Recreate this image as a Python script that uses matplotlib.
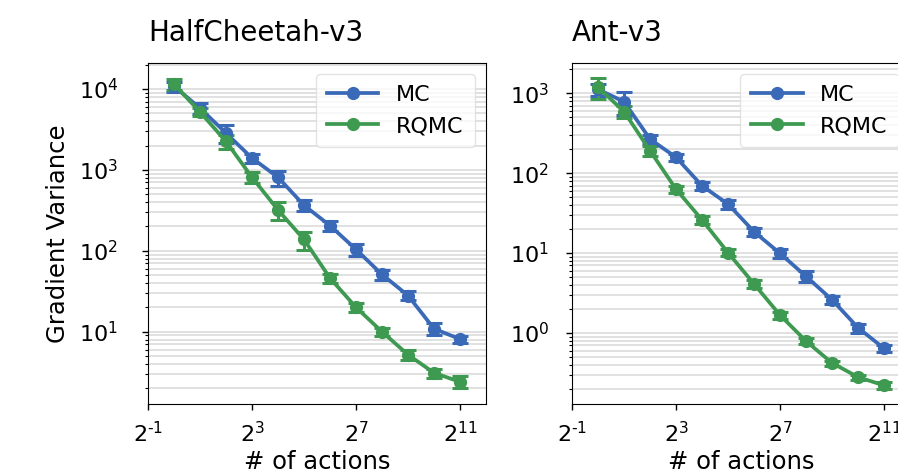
import numpy as np
import matplotlib.pyplot as plt
from matplotlib.ticker import LogLocator, FixedLocator, FuncFormatter, NullFormatter

# nombre d'actions (2^0 ... 2^11)
actions = [1, 2, 4, 8, 16, 32, 64, 128, 256, 512, 1024, 2048]

# HalfCheetah-v3
hc_mc = [10800, 5800, 2850, 1400, 810, 365, 205, 104, 51, 28, 10.9, 8.1]
hc_mc_err = [1500, 900, 700, 170, 170, 55, 30, 18, 7, 3.5, 1.8, 0.8]
hc_rqmc = [11500, 5200, 2250, 810, 320, 138, 46, 20, 10, 5.2, 3.1, 2.4]
hc_rqmc_err = [1700, 600, 450, 130, 80, 35, 6, 2.5, 1.2, 0.7, 0.4, 0.4]

# Ant-v3
ant_mc = [1120, 785, 267, 158, 69.5, 41, 18.5, 9.9, 5.1, 2.6, 1.16, 0.64]
ant_mc_err = [200, 250, 35, 18, 8, 5, 2.2, 1.3, 0.8, 0.3, 0.15, 0.07]
ant_rqmc = [1190, 590, 191, 63, 26, 10.1, 4.1, 1.67, 0.79, 0.42, 0.28, 0.22]
ant_rqmc_err = [350, 100, 25, 7, 3, 1.0, 0.45, 0.18, 0.07, 0.03, 0.02, 0.02]

xticks = [2.0 ** -1, 2.0 ** 3, 2.0 ** 7, 2.0 ** 11]

bleu = "#3a6ab7"
vert = "#3e9a50"

plt.rcParams['font.family'] = 'DejaVu Sans'


def fmt_puissance(v, p):
    e = int(round(np.log2(v)))
    if e < 0:
        return r"$\mathdefault{2^{\text{-}%d}}$" % (-e)
    return r"$\mathdefault{2^{%d}}$" % e


fig = plt.figure(figsize=(8.98, 4.73), dpi=100)
ax1 = fig.add_axes([0.1648, 0.146, 0.3764, 0.721])
ax2 = fig.add_axes([0.637, 0.146, 0.3764, 0.721])

panneaux = [
    (ax1, "HalfCheetah-v3", hc_mc, hc_mc_err, hc_rqmc, hc_rqmc_err, (1.28, 2.1e4), 17.5),
    (ax2, "Ant-v3", ant_mc, ant_mc_err, ant_rqmc, ant_rqmc_err, (0.129, 2400), 12.5),
]

for ax, titre, mc, mc_err, rq, rq_err, ylim, ypad in panneaux:
    c1 = ax.errorbar(actions, mc, yerr=mc_err, color=bleu, lw=2.7, marker='o', ms=8.5,
                     capsize=5.5, capthick=2.2, elinewidth=2.2, label="MC")
    c2 = ax.errorbar(actions, rq, yerr=rq_err, color=vert, lw=2.7, marker='o', ms=8.5,
                     capsize=5.5, capthick=2.2, elinewidth=2.2, label="RQMC")
    ax.set_xscale('log', base=2)
    ax.set_yscale('log')
    ax.set_xlim(2.0 ** -1, 2.0 ** 12)
    ax.set_ylim(*ylim)
    ax.xaxis.set_major_locator(FixedLocator(xticks))
    ax.xaxis.set_minor_locator(FixedLocator([]))
    ax.xaxis.set_major_formatter(FuncFormatter(fmt_puissance))
    ax.yaxis.set_major_locator(LogLocator(base=10, numticks=20))
    ax.yaxis.set_minor_locator(LogLocator(base=10, subs=np.arange(2, 10), numticks=20))
    ax.yaxis.set_minor_formatter(NullFormatter())
    ax.grid(True, axis='y', which='both', color='#d9d9d9', lw=1.1)
    ax.set_axisbelow(True)
    ax.tick_params(axis='both', which='major', labelsize=16, length=4, width=1)
    ax.tick_params(axis='x', which='major', pad=8)
    ax.tick_params(axis='y', which='major', pad=ypad)
    ax.tick_params(axis='y', which='minor', length=2.5, width=0.8)
    ax.set_title(titre, loc='left', fontsize=20, pad=16)
    ax.set_xlabel("# of actions", fontsize=17.5, labelpad=3)
    ax.legend(handles=[c1.lines[0], c2.lines[0]], labels=["MC", "RQMC"],
              loc='upper right', fontsize=16, handlelength=2.3, borderpad=0.5,
              labelspacing=0.5, handletextpad=0.8, framealpha=0.8,
              edgecolor='#dddddd')

ax1.set_ylabel("Gradient Variance", fontsize=17.5, labelpad=6)

plt.savefig("out.png", dpi=100)
